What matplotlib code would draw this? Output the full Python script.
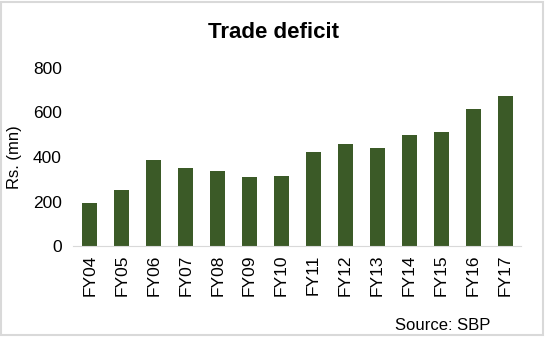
import matplotlib.pyplot as plt
from matplotlib.patches import Rectangle

plt.rcParams['font.family'] = ['Liberation Sans', 'DejaVu Sans']

years = ['FY04', 'FY05', 'FY06', 'FY07', 'FY08', 'FY09', 'FY10',
         'FY11', 'FY12', 'FY13', 'FY14', 'FY15', 'FY16', 'FY17']
deficit = [193, 252, 386, 351, 337, 310, 315,
           422, 458, 440, 499, 512, 616, 674]

fig = plt.figure(figsize=(5.45, 3.52), dpi=100)
ax = fig.add_axes([73/545, 1-246/352, 448/545, 178/352])

x = range(len(years))
ax.bar(x, deficit, width=0.47, color='#3b5a27')
ax.set_xlim(-0.53, 13.5)
ax.set_ylim(0, 800)
ax.set_yticks([0, 200, 400, 600, 800])
ax.set_xticks(list(x))
ax.set_xticklabels(years, rotation=90, fontsize=12.5)
ax.tick_params(axis='y', labelsize=12.5, length=0, pad=8)
ax.tick_params(axis='x', length=0, pad=6)
for s in ['top', 'right', 'left']:
    ax.spines[s].set_visible(False)
ax.spines['bottom'].set_color('#d9d9d9')
ax.set_ylabel('Rs. (mn)', fontsize=12, labelpad=8)

fig.text(273/545, 1-32/352, 'Trade deficit', ha='center', va='center',
         fontsize=16, fontweight='bold')
fig.text(490/545, 1-325/352, 'Source: SBP', ha='right', va='center', fontsize=12)

# grey frame round the chart
fig.patches.append(Rectangle((1/545, 1-335/352), 542/545, 333/352,
                             transform=fig.transFigure, fill=False,
                             edgecolor='#d9d9d9', linewidth=1.5))

fig.savefig('out.png', dpi=100)
